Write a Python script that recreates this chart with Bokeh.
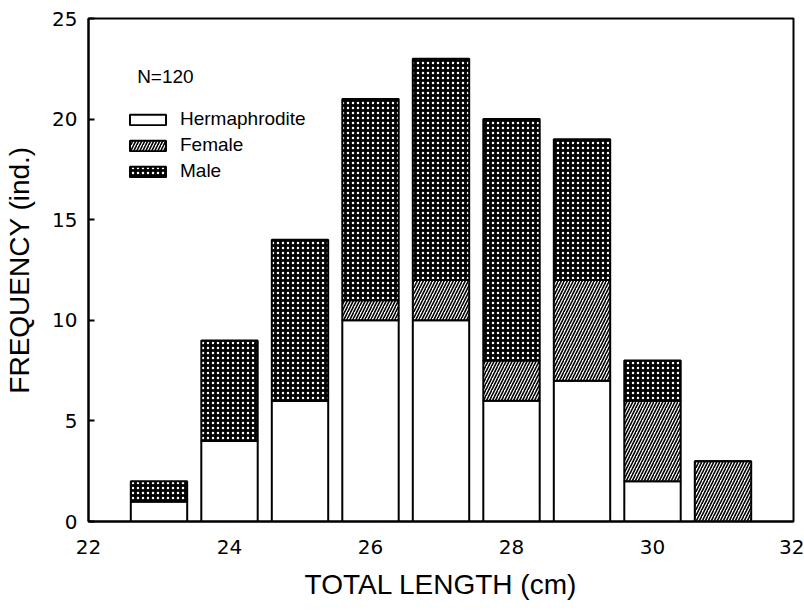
from bokeh.plotting import figure
from bokeh.models import ColumnDataSource, Legend, LegendItem, Label, FixedTicker, Range1d
from bokeh.embed import file_html
from bokeh.resources import INLINE

# Data
lengths = [23, 24, 25, 26, 27, 28, 29, 30, 31]
hermaphrodite = [1, 4, 6, 10, 10, 6, 7, 2, 0]
female = [0, 0, 0, 1, 2, 2, 5, 4, 3]
male = [1, 5, 8, 10, 11, 12, 7, 2, 0]
x_ticks = [22, 24, 26, 28, 30, 32]
y_ticks = [0, 5, 10, 15, 20, 25]

h_top = hermaphrodite
f_top = [h + f for h, f in zip(hermaphrodite, female)]
m_top = [ft + m for ft, m in zip(f_top, male)]

src = ColumnDataSource(dict(
    x=lengths, h_bot=[0] * len(lengths), h_top=h_top,
    f_bot=h_top, f_top=f_top, m_bot=f_top, m_top=m_top,
))

FONT = "Liberation Sans"
TICKFONT = "DejaVu Sans"

p = figure(width=804, height=615, output_backend="svg", toolbar_location=None,
           x_range=Range1d(22, 32), y_range=Range1d(0, 25),
           min_border_left=88, min_border_right=11, min_border_top=18, min_border_bottom=94)

bw = 0.8
r_h = p.vbar(x="x", bottom="h_bot", top="h_top", width=bw, source=src,
             fill_color="white", line_color="black", line_width=2)
r_f = p.vbar(x="x", bottom="f_bot", top="f_top", width=bw, source=src,
             fill_color="white", line_color="black", line_width=2,
             hatch_pattern="right_diagonal_line", hatch_color="black",
             hatch_scale=6, hatch_weight=1.6)
r_m = p.vbar(x="x", bottom="m_bot", top="m_top", width=bw, source=src,
             fill_color="black", line_color="black", line_width=2,
             hatch_pattern="dot", hatch_color="white",
             hatch_scale=5, hatch_weight=2)

p.grid.visible = False
p.outline_line_color = "black"
p.outline_line_width = 2
p.background_fill_color = "white"
p.border_fill_color = "white"

p.xaxis.ticker = FixedTicker(ticks=x_ticks)
p.yaxis.ticker = FixedTicker(ticks=y_ticks)
for ax in (p.xaxis[0], p.yaxis[0]):
    ax.axis_line_width = 2
    ax.axis_line_color = "black"
    ax.minor_tick_line_color = None
    ax.major_label_text_font = TICKFONT
    ax.major_label_text_font_size = "20px"
    ax.major_label_text_color = "black"
    ax.axis_label_text_font = FONT
    ax.axis_label_text_font_size = "28px"
    ax.axis_label_text_font_style = "normal"
    ax.axis_label_text_color = "black"

p.xaxis.major_tick_line_color = None
p.xaxis.major_label_standoff = 12
p.xaxis.axis_label = "TOTAL LENGTH (cm)"
p.xaxis.axis_label_standoff = 12

p.yaxis.major_tick_in = 6
p.yaxis.major_tick_out = 0
p.yaxis.major_tick_line_width = 2
p.yaxis.major_label_standoff = 11
p.yaxis.axis_label = "FREQUENCY (ind.)"
p.yaxis.axis_label_standoff = 14

legend = Legend(items=[
    LegendItem(label="Hermaphrodite", renderers=[r_h]),
    LegendItem(label="Female", renderers=[r_f]),
    LegendItem(label="Male", renderers=[r_m]),
], location=(37, 339), orientation="vertical",
    glyph_width=45, glyph_height=13, label_height=20, spacing=4,
    padding=0, margin=0, border_line_color=None, background_fill_alpha=0,
    label_text_font=FONT, label_text_font_size="19px", label_text_color="black",
    label_standoff=10)
p.add_layout(legend, "center")

p.add_layout(Label(x=22.69, y=22.1, text="N=120", text_font=FONT, text_color="black",
                   text_font_size="19px", text_baseline="middle", text_align="left"))

open("out.html", "w").write(file_html(p, INLINE))
